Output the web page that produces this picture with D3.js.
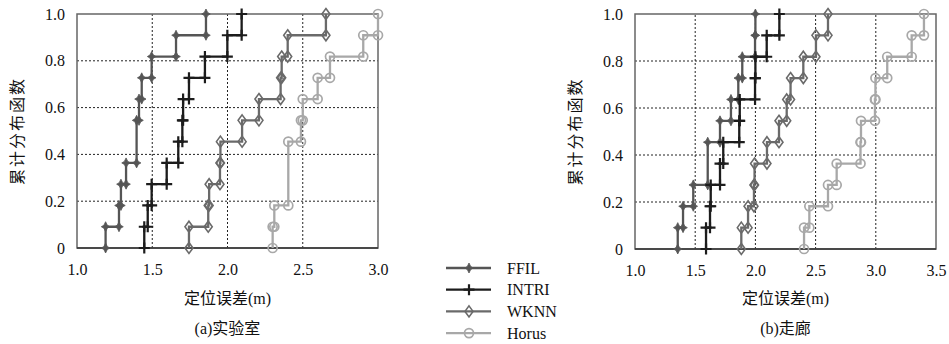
<!DOCTYPE html>
<html>
<head>
<meta charset="utf-8">
<script src="https://cdn.jsdelivr.net/npm/d3@7"></script>
<style>
  body { margin: 0; background: #fff; }
  svg { display: block; }
  text { font-family: "Liberation Serif", "DejaVu Serif", "Noto Sans CJK SC", serif; fill: #111; }
</style>
</head>
<body>
<svg id="chart" width="949" height="344"></svg>
<script>
// sorted positioning errors (m), 11 test points per method
let methods = ["FFIL", "INTRI", "WKNN", "Horus"]

// (a) 实验室
let labFFIL  = [1.19, 1.279, 1.292, 1.326, 1.396, 1.396, 1.412, 1.43, 1.496, 1.658, 1.857]
let labINTRI = [1.447, 1.47, 1.496, 1.596, 1.673, 1.70, 1.705, 1.744, 1.85, 1.999, 2.094]
let labWKNN  = [1.744, 1.872, 1.878, 1.95, 1.953, 2.097, 2.209, 2.353, 2.36, 2.40, 2.654]
let labHorus = [2.30, 2.311, 2.404, 2.404, 2.404, 2.488, 2.50, 2.599, 2.681, 2.902, 3.0]

// (b) 走廊
let corFFIL  = [1.355, 1.399, 1.484, 1.604, 1.604, 1.706, 1.797, 1.858, 1.891, 1.997, 2.0]
let corINTRI = [1.59, 1.623, 1.629, 1.706, 1.733, 1.866, 1.87, 1.997, 2.0, 2.094, 2.199]
let corWKNN  = [1.883, 1.939, 1.988, 1.993, 2.096, 2.196, 2.26, 2.292, 2.398, 2.503, 2.603]
let corHorus = [2.404, 2.448, 2.603, 2.675, 2.873, 2.877, 2.993, 2.997, 3.095, 3.298, 3.40]

let yTicks = [0, 0.2, 0.4, 0.6, 0.8, 1.0]
let yTickLabels = ["0", "0.2", "0.4", "0.6", "0.8", "1.0"]
let labXTicks = [1.0, 1.5, 2.0, 2.5, 3.0]
let corXTicks = [1.0, 1.5, 2.0, 2.5, 3.0, 3.5]

let colors = {FFIL: "#555555", INTRI: "#1c1c1c", WKNN: "#6a6a6a", Horus: "#a8a8a8"}

let svg = d3.select("#chart")

// staircase vertices of the empirical CDF
function cdfPoints(errs) {
  let n = errs.length, pts = [], cum = 0
  let groups = d3.rollups(errs, v => v.length, d => d).sort((a, b) => a[0] - b[0])
  groups.forEach(g => {
    pts.push([g[0], cum / n])
    cum += g[1]
    pts.push([g[0], cum / n])
  })
  return pts
}

function drawMarker(g, name, x, y) {
  let c = colors[name]
  if (name == "FFIL") {
    g.append("path")
      .attr("d", "M0,-5 L1.7,-1.5 L4.3,0 L1.7,1.5 L0,5 L-1.7,1.5 L-4.3,0 L-1.7,-1.5 Z")
      .attr("transform", "translate(" + x + "," + y + ")")
      .style("fill", c).style("stroke", c).style("stroke-width", 0.8)
  } else if (name == "INTRI") {
    g.append("path")
      .attr("d", "M0,-5.5 V5.5 M-5.5,0 H5.5")
      .attr("transform", "translate(" + x + "," + y + ")")
      .style("fill", "none").style("stroke", c).style("stroke-width", 2.2)
  } else if (name == "WKNN") {
    g.append("path")
      .attr("d", "M0,-5.5 L4,0 L0,5.5 L-4,0 Z")
      .attr("transform", "translate(" + x + "," + y + ")")
      .style("fill", "none").style("stroke", c).style("stroke-width", 1.6)
  } else {
    g.append("circle")
      .attr("cx", x).attr("cy", y).attr("r", 4.5)
      .style("fill", "none").style("stroke", c).style("stroke-width", 1.7)
  }
}

function panel(opts) {
  let x = d3.scaleLinear().domain(opts.xDomain).range(opts.xRange)
  let y = d3.scaleLinear().domain([0, 1]).range(opts.yRange)
  let g = svg.append("g")
  let [x0, x1] = opts.xRange, [y0, y1] = opts.yRange

  // grid
  g.selectAll(".vgrid")
    .data(opts.xTicks.slice(1, -1))
    .enter().append("line")
      .attr("x1", d => x(d)).attr("x2", d => x(d))
      .attr("y1", y0).attr("y2", y1)
      .style("stroke", "#222").style("stroke-width", 1).style("stroke-dasharray", "2,2")
  g.selectAll(".hgrid")
    .data(yTicks.slice(1, -1))
    .enter().append("line")
      .attr("x1", x0).attr("x2", x1)
      .attr("y1", d => y(d)).attr("y2", d => y(d))
      .style("stroke", "#222").style("stroke-width", 1).style("stroke-dasharray", "2,2")

  // box
  g.append("rect")
    .attr("x", x0).attr("y", y1).attr("width", x1 - x0).attr("height", y0 - y1)
    .style("fill", "none").style("stroke", "#666").style("stroke-width", 1.5)
  g.append("line")
    .attr("x1", x0).attr("x2", x1).attr("y1", y0).attr("y2", y0)
    .style("stroke", "#333").style("stroke-width", 1.5)

  // tick labels
  g.append("g")
    .attr("transform", "translate(0," + y0 + ")")
    .call(d3.axisBottom(x).tickValues(opts.xTicks).tickFormat(d3.format(".1f")).tickSize(0).tickPadding(16))
    .call(a => a.select(".domain").remove())
    .selectAll("text")
      .attr("class", "num")
  g.append("g")
    .attr("transform", "translate(" + x0 + ",0)")
    .call(d3.axisLeft(y).tickValues(yTicks).tickFormat((d, i) => yTickLabels[i]).tickSize(0).tickPadding(12))
    .call(a => a.select(".domain").remove())
    .selectAll("text")
      .attr("class", "num")
  g.selectAll("text.num")
    .style("font-size", "16px")
    .style("font-family", "'Liberation Serif', 'DejaVu Serif', serif")

  // curves
  let line = d3.line().x(d => x(d[0])).y(d => y(d[1]))
  methods.forEach((m, i) => {
    let pts = cdfPoints(opts.series[i])
    let sg = g.append("g")
    sg.append("path")
      .attr("d", line(pts))
      .style("fill", "none")
      .style("stroke", colors[m])
      .style("stroke-width", 2.3)
    pts.forEach(p => drawMarker(sg, m, x(p[0]), y(p[1])))
  })

  // labels
  let cx = (x0 + x1) / 2
  g.append("text")
    .attr("x", cx).attr("y", 304)
    .attr("text-anchor", "middle")
    .style("font-size", "16px")
    .text("定位误差(m)")
  g.append("text")
    .attr("x", cx).attr("y", 334)
    .attr("text-anchor", "middle")
    .style("font-size", "16px")
    .text(opts.caption)
  g.append("text")
    .attr("transform", "translate(" + opts.yLabelX + "," + ((y0 + y1) / 2) + ") rotate(-90)")
    .attr("text-anchor", "middle")
    .style("font-size", "16px")
    .style("letter-spacing", "2px")
    .text("累计分布函数")
}

panel({
  xDomain: [1.0, 3.0], xRange: [77, 378], yRange: [248, 14],
  xTicks: labXTicks, yLabelX: 23, caption: "(a)实验室",
  series: [labFFIL, labINTRI, labWKNN, labHorus]
})

panel({
  xDomain: [1.0, 3.5], xRange: [635, 936], yRange: [249, 14],
  xTicks: corXTicks, yLabelX: 581, caption: "(b)走廊",
  series: [corFFIL, corINTRI, corWKNN, corHorus]
})

// legend
let legend = svg.append("g")
methods.forEach((m, i) => {
  let ly = 268 + i * 21.7
  legend.append("line")
    .attr("x1", 446).attr("x2", 491).attr("y1", ly).attr("y2", ly)
    .style("stroke", colors[m]).style("stroke-width", 2.3)
  drawMarker(legend, m, 469, ly)
  legend.append("text")
    .attr("x", 507).attr("y", ly + 5.5)
    .style("font-size", "16px")
    .text(m)
})
</script>
</body>
</html>
